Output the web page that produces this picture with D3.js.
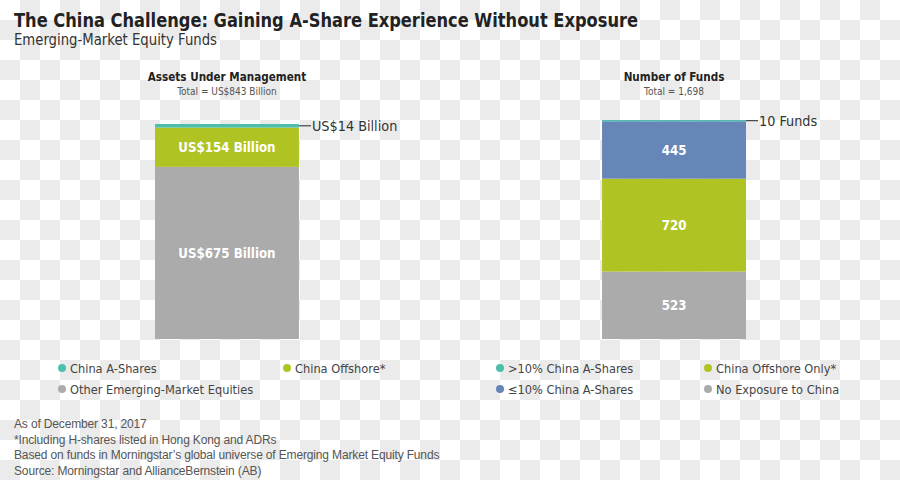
<!DOCTYPE html>
<html><head><meta charset="utf-8">
<script src="https://cdn.jsdelivr.net/npm/d3@7/dist/d3.min.js"></script>
<style>
html,body{margin:0;padding:0;}
body{width:900px;height:480px;overflow:hidden;
background:repeating-conic-gradient(#ebebeb 0 25%, #ffffff 0 50%) 0 0/40px 40px;}
svg{display:block;}
</style></head><body>
<svg id="c" width="900" height="480"></svg>
<script>
// ---- data ----
const chartKeys = ["aum", "funds"];
const chartTitles = ["Assets Under Management", "Number of Funds"];
const chartTotals = ["Total = US$843 Billion", "Total = 1,698"];
const aumCategories = ["China A-Shares", "China Offshore*", "Other Emerging-Market Equities"];
const aumValues = [14, 154, 675];
const aumLabels = ["US$14 Billion", "US$154 Billion", "US$675 Billion"];
const fundCategories = [">10% China A-Shares", "≤10% China A-Shares", "China Offshore Only*", "No Exposure to China"];
const fundValues = [10, 445, 720, 523];
const fundLabels = ["10 Funds", "445", "720", "523"];
const aumColors = ["#4dbfae", "#afc423", "#ababab"];
const fundColors = ["#4dbfae", "#6786b8", "#afc423", "#ababab"];
const footnotes = [
  "As of December 31, 2017",
  "*Including H-shares listed in Hong Kong and ADRs",
  "Based on funds in Morningstar\u2019s global universe of Emerging Market Equity Funds",
  "Source: Morningstar and AllianceBernstein (AB)"
];

const svg = d3.select("#c");
const cond = "'DejaVu Sans Condensed','Roboto Condensed',Roboto,sans-serif";

svg.append("text").attr("x", 14).attr("y", 27)
  .attr("font-family", cond).attr("font-weight", "bold").attr("font-size", 20)
  .attr("fill", "#222").attr("textLength", 624).attr("lengthAdjust", "spacingAndGlyphs")
  .text("The China Challenge: Gaining A-Share Experience Without Exposure");
svg.append("text").attr("x", 14).attr("y", 45)
  .attr("font-family", cond).attr("font-size", 15)
  .attr("fill", "#333").attr("textLength", 203).attr("lengthAdjust", "spacingAndGlyphs")
  .text("Emerging-Market Equity Funds");

const x = d3.scaleBand().domain(chartKeys).range([155, 746]).paddingInner(0.678).paddingOuter(0);

const charts = [
  {key: "aum", cats: aumCategories, vals: aumValues, labels: aumLabels, colors: aumColors, top: 124},
  {key: "funds", cats: fundCategories, vals: fundValues, labels: fundLabels, colors: fundColors, top: 120}
];

charts.forEach((c, ci) => {
  const total = d3.sum(c.vals);
  const y = d3.scaleLinear().domain([0, total]).range([339, c.top]);
  const x0 = x(c.key), bw = x.bandwidth(), cx = x0 + bw / 2;
  svg.append("text").attr("x", cx).attr("y", 81).attr("text-anchor", "middle")
    .attr("font-family", cond).attr("font-weight", "bold").attr("font-size", 11.6).attr("fill", "#222")
    .text(chartTitles[ci]);
  svg.append("text").attr("x", cx).attr("y", 95).attr("text-anchor", "middle")
    .attr("font-family", cond).attr("font-size", 10).attr("fill", "#555")
    .text(chartTotals[ci]);
  let cum = 0;
  const segs = [];
  for (let i = c.vals.length - 1; i >= 0; i--) {
    segs.push({i, y0: cum, y1: cum + c.vals[i]});
    cum += c.vals[i];
  }
  svg.append("g").selectAll("rect").data(segs).join("rect")
    .attr("x", x0).attr("width", bw)
    .attr("y", d => y(d.y1)).attr("height", d => y(d.y0) - y(d.y1))
    .attr("fill", d => c.colors[d.i]);
  segs.forEach(s => {
    if (s.i === 0) {
      const yy = y((s.y0 + s.y1) / 2);
      svg.append("line").attr("x1", x0 + bw).attr("x2", x0 + bw + 12)
        .attr("y1", yy).attr("y2", yy).attr("stroke", "#444").attr("stroke-width", 1.2);
      svg.append("text").attr("x", x0 + bw + 13).attr("y", yy + 5.5)
        .attr("font-family", cond).attr("font-size", 14.3).attr("fill", "#333")
        .text(c.labels[0]);
    } else {
      svg.append("text").attr("x", cx).attr("y", y((s.y0 + s.y1) / 2) + 5)
        .attr("text-anchor", "middle").attr("font-family", cond).attr("font-weight", "bold")
        .attr("font-size", 13.2).attr("fill", "#fff")
        .text(c.labels[s.i]);
    }
  });
});

const legendPos = {
  aum: [[62, 368], [287, 368], [62, 389]],
  funds: [[500, 368], [500, 389], [708, 368], [708, 389]]
};
charts.forEach(c => {
  c.cats.forEach((cat, i) => {
    const [lx, ly] = legendPos[c.key][i];
    svg.append("circle").attr("cx", lx).attr("cy", ly).attr("r", 4).attr("fill", c.colors[i]);
    svg.append("text").attr("x", lx + 8).attr("y", ly + 4.5)
      .attr("font-family", cond).attr("font-size", 12.7).attr("fill", "#444")
      .text(cat);
  });
});

svg.append("g").selectAll("text").data(footnotes).join("text")
  .attr("x", 14).attr("y", (d, i) => 428 + i * 15.6)
  .attr("font-family", "'Liberation Sans',Arial,sans-serif").attr("font-size", 12)
  .attr("fill", "#555").attr("letter-spacing", -0.15)
  .text(d => d);
</script>
</body></html>
